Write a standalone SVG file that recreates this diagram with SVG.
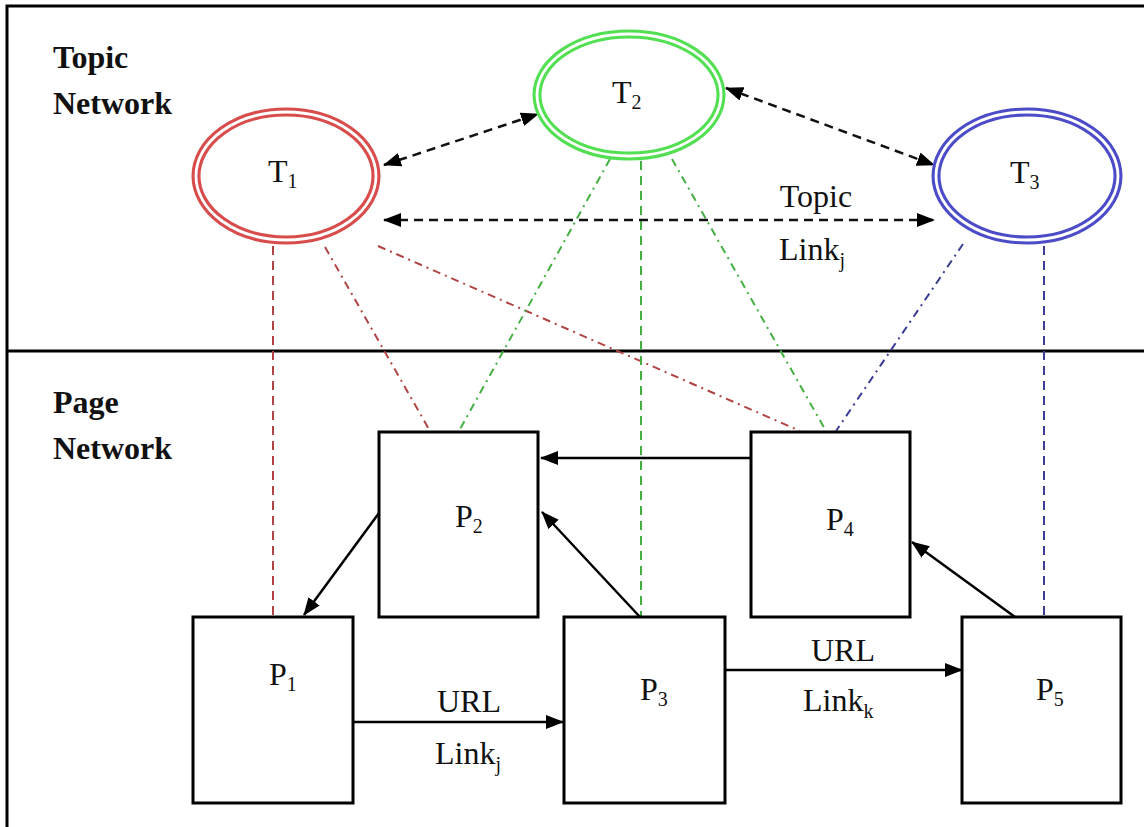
<svg xmlns="http://www.w3.org/2000/svg" width="1144" height="827" viewBox="0 0 1144 827">
  <style>
    .frame { stroke: #000; stroke-width: 3; fill: none; }
    .lbl { font-family: "Liberation Serif", "Times New Roman", serif; font-size: 32px; fill: #111; }
    .sub { font-size: 20px; }
    .hdr { font-family: "Liberation Serif", "Times New Roman", serif; font-size: 32px; font-weight: bold; fill: #111; }
    .page { fill: #fff; stroke: #000; stroke-width: 3; }
    .ring { fill: #fff; stroke-width: 9; }
    .gap { fill: none; stroke: #fff; stroke-width: 2.8; }
    .url { stroke: #000; stroke-width: 2.5; fill: none; marker-end: url(#head); }
    .tlink { stroke: #111; stroke-width: 2.5; fill: none; stroke-dasharray: 9 6; marker-start: url(#headR); marker-end: url(#head); }
    .assoc { fill: none; stroke-width: 2; stroke-dasharray: 8 5 2 5; }
    .vert { fill: none; stroke-width: 2; stroke-dasharray: 9 6; }
    .red { stroke: #b04444; }
    .green { stroke: #44b044; }
    .blue { stroke: #3c3c96; }
  </style>
  <defs>
    <marker id="head" viewBox="0 0 18 14" refX="17" refY="7" markerWidth="18" markerHeight="14" markerUnits="userSpaceOnUse" orient="auto">
      <path d="M0,0 L18,7 L0,14 Z" fill="#000"/>
    </marker>
    <marker id="headR" viewBox="0 0 18 14" refX="1" refY="7" markerWidth="18" markerHeight="14" markerUnits="userSpaceOnUse" orient="auto">
      <path d="M18,0 L0,7 L18,14 Z" fill="#000"/>
    </marker>
  </defs>

  <rect width="1144" height="827" fill="#fff"/>

  <!-- frame and band divider -->
  <path class="frame" d="M7,827 V6 H1144"/>
  <line class="frame" x1="7" y1="351" x2="1144" y2="351"/>

  <text class="hdr" x="53" y="68">Topic</text>
  <text class="hdr" x="53" y="114">Network</text>
  <text class="hdr" x="53" y="413">Page</text>
  <text class="hdr" x="53" y="459">Network</text>

  <!-- connectors -->
  <g id="connectors">
    <!-- topic-to-page associations -->
    <line class="vert red" x1="273" y1="246" x2="273" y2="617"/>
    <line class="assoc red" x1="325" y1="247" x2="430" y2="431"/>
    <line class="assoc red" x1="378" y1="246" x2="800" y2="431"/>
    <line class="assoc green" x1="610" y1="159" x2="459" y2="431"/>
    <line class="vert green" x1="641" y1="161" x2="641" y2="617"/>
    <line class="assoc green" x1="672" y1="159" x2="826" y2="431"/>
    <line class="assoc blue" x1="963" y1="244" x2="836" y2="431"/>
    <line class="vert blue" x1="1044" y1="246" x2="1044" y2="617"/>

    <!-- topic links -->
    <line class="tlink" x1="384" y1="165" x2="538" y2="114"/>
    <line class="tlink" x1="726" y1="88" x2="934" y2="165"/>
    <line class="tlink" x1="384" y1="220" x2="934" y2="220"/>
    <text class="lbl" x="816" y="207" text-anchor="middle">Topic</text>
    <text class="lbl" x="779" y="260">Link<tspan class="sub" dy="7">j</tspan></text>

    <!-- URL links -->
    <line class="url" x1="379" y1="513" x2="304" y2="615"/>
    <line class="url" x1="751" y1="458" x2="541" y2="458"/>
    <line class="url" x1="640" y1="617" x2="542" y2="512"/>
    <line class="url" x1="353" y1="722" x2="563" y2="722"/>
    <line class="url" x1="725" y1="670" x2="962" y2="670"/>
    <line class="url" x1="1015" y1="617" x2="912" y2="542"/>
    <text class="lbl" x="469" y="712" text-anchor="middle">URL</text>
    <text class="lbl" x="435" y="764">Link<tspan class="sub" dy="7">j</tspan></text>
    <text class="lbl" x="843" y="661" text-anchor="middle">URL</text>
    <text class="lbl" x="803" y="711">Link<tspan class="sub" dy="7">k</tspan></text>
  </g>

  <!-- topic network -->
  <g id="T1">
    <ellipse class="ring" cx="286" cy="176" rx="90" ry="64" stroke="#d84c4c"/>
    <ellipse class="gap" cx="286" cy="176" rx="90" ry="64"/>
    <text class="lbl" x="268" y="182">T<tspan class="sub" dy="6">1</tspan></text>
  </g>
  <g id="T2">
    <ellipse class="ring" cx="629" cy="95" rx="92" ry="61" stroke="#52e052"/>
    <ellipse class="gap" cx="629" cy="95" rx="92" ry="61"/>
    <text class="lbl" x="612" y="103">T<tspan class="sub" dy="6">2</tspan></text>
  </g>
  <g id="T3">
    <ellipse class="ring" cx="1027" cy="176" rx="91" ry="64" stroke="#4c4cc8"/>
    <ellipse class="gap" cx="1027" cy="176" rx="91" ry="64"/>
    <text class="lbl" x="1010" y="183">T<tspan class="sub" dy="6">3</tspan></text>
  </g>

  <!-- page network -->
  <g id="P1">
    <rect class="page" x="193" y="617" width="160" height="186"/>
    <text class="lbl" x="269" y="685">P<tspan class="sub" dy="6">1</tspan></text>
  </g>
  <g id="P2">
    <rect class="page" x="379" y="432" width="159" height="185"/>
    <text class="lbl" x="455" y="527">P<tspan class="sub" dy="6">2</tspan></text>
  </g>
  <g id="P3">
    <rect class="page" x="564" y="617" width="161" height="186"/>
    <text class="lbl" x="640" y="700">P<tspan class="sub" dy="6">3</tspan></text>
  </g>
  <g id="P4">
    <rect class="page" x="751" y="432" width="159" height="185"/>
    <text class="lbl" x="826" y="530">P<tspan class="sub" dy="6">4</tspan></text>
  </g>
  <g id="P5">
    <rect class="page" x="962" y="617" width="159" height="186"/>
    <text class="lbl" x="1036" y="700">P<tspan class="sub" dy="6">5</tspan></text>
  </g>
</svg>
